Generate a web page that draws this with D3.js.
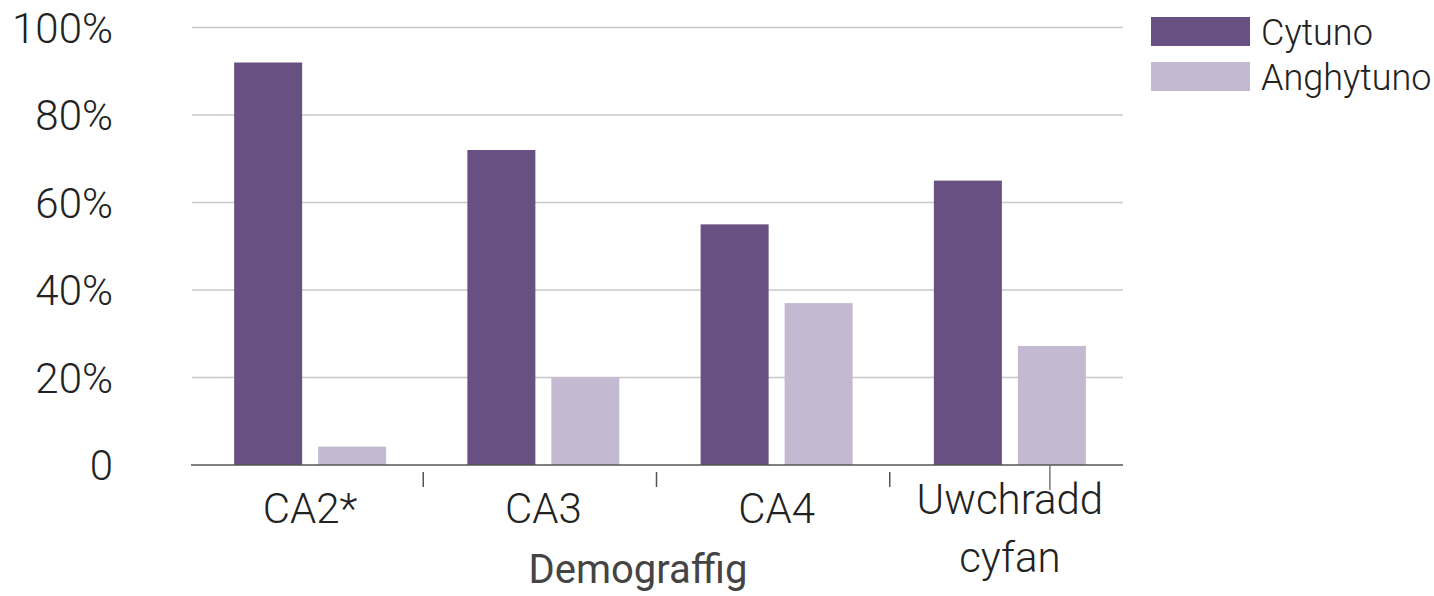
<!DOCTYPE html>
<html>
<head>
<meta charset="utf-8">
<script src="https://cdn.jsdelivr.net/npm/d3@7"></script>
<style>
  html, body { margin: 0; padding: 0; background: #fff; }
  svg { display: block; font-family: Roboto, "Noto Sans", sans-serif; }
  .light { font-family: "Roboto Light", Roboto, "Noto Sans", sans-serif; font-weight: 300; }
</style>
</head>
<body>
<svg id="chart" width="1434" height="596"></svg>
<script>
const categories = [["CA2*"], ["CA3"], ["CA4"], ["Uwchradd", "cyfan"]];
const seriesNames = ["Cytuno", "Anghytuno"];
const cytuno = [92, 72, 55, 65];
const anghytuno = [4.2, 20, 37, 27.2];
const yTicks = [0, 20, 40, 60, 80, 100];
const yTickLabels = ["0", "20%", "40%", "60%", "80%", "100%"];
const axisTitle = "Demograffig";
const colors = ["#685182", "#c3b9d1"];

const svg = d3.select("#chart");
const pLeft = 190, pRight = 1123, pTop = 27.5, pBottom = 465;

const catKeys = categories.map(c => c.join(" "));
const x0 = d3.scaleBand().domain(catKeys).range([pLeft, pRight]).padding(0);
const bw = x0.bandwidth();
const groupW = 152, shift = 3.5;
const x1 = d3.scaleBand().domain(seriesNames)
  .range([bw / 2 - groupW / 2 + shift, bw / 2 + groupW / 2 + shift])
  .paddingInner(0.1905).paddingOuter(0);
const y = d3.scaleLinear().domain([0, 100]).range([pBottom, pTop]);

// gridlines
svg.append("g").selectAll("line").data(yTicks.filter(t => t > 0)).join("line")
  .attr("x1", pLeft + 2).attr("x2", pRight)
  .attr("y1", d => y(d)).attr("y2", d => y(d))
  .attr("stroke", "#c8c8c8").attr("stroke-width", 1.5);

// y labels
svg.append("g").selectAll("text").data(yTicks).join("text")
  .attr("class", "light")
  .attr("x", 113).attr("y", d => y(d))
  .attr("dy", "0.36em")
  .attr("text-anchor", "end")
  .attr("font-size", 42).attr("fill", "#222")
  .text((d, i) => yTickLabels[i]);

// bars
const rows = catKeys.map((k, i) => ({ key: k, values: [cytuno[i], anghytuno[i]] }));
const groups = svg.append("g").selectAll("g").data(rows).join("g")
  .attr("transform", d => `translate(${x0(d.key)},0)`);
groups.selectAll("rect").data(d => d.values.map((v, j) => ({ s: seriesNames[j], v, j })))
  .join("rect")
  .attr("x", d => x1(d.s)).attr("width", x1.bandwidth())
  .attr("y", d => y(d.v)).attr("height", d => y(0) - y(d.v))
  .attr("fill", d => colors[d.j]);

// baseline
svg.append("line").attr("x1", pLeft + 1).attr("x2", pRight)
  .attr("y1", pBottom).attr("y2", pBottom)
  .attr("stroke", "#555").attr("stroke-width", 1.5);

// band boundary ticks
const bounds = catKeys.slice(1).map(k => x0(k));
svg.append("g").selectAll("line").data(bounds).join("line")
  .attr("x1", d => d).attr("x2", d => d)
  .attr("y1", pBottom + 7).attr("y2", pBottom + 22)
  .attr("stroke", "#555").attr("stroke-width", 1.5);
// extra long tick under last group
const extraX = x0(catKeys[3]) + x1(seriesNames[1]) + 32;
svg.append("line")
  .attr("x1", extraX).attr("x2", extraX)
  .attr("y1", pBottom).attr("y2", pBottom + 25)
  .attr("stroke", "#777").attr("stroke-width", 1.5);

// x labels
const xl = svg.append("g").selectAll("text").data(categories).join("text")
  .attr("class", "light")
  .attr("text-anchor", "middle")
  .attr("font-size", 42).attr("fill", "#222")
  .attr("transform", (d, i) => `translate(${x0(catKeys[i]) + bw / 2 + shift},${d.length > 1 ? 514 : 523})`);
xl.selectAll("tspan").data(d => d).join("tspan")
  .attr("x", 0).attr("dy", (d, i) => i === 0 ? 0 : 58)
  .text(d => d);

// axis title
svg.append("text").attr("x", 638).attr("y", 583)
  .attr("text-anchor", "middle").attr("font-size", 40).attr("font-weight", 400)
  .attr("fill", "#444").text(axisTitle);

// legend
const lg = svg.append("g").selectAll("g").data(seriesNames).join("g")
  .attr("transform", (d, i) => `translate(1151,${17 + i * 45})`);
lg.append("rect").attr("width", 99).attr("height", 29).attr("fill", (d, i) => colors[i]);
lg.append("text").attr("class", "light").attr("x", 110).attr("y", 28)
  .attr("font-size", 36).attr("fill", "#222")
  .text(d => d);
</script>
</body>
</html>
